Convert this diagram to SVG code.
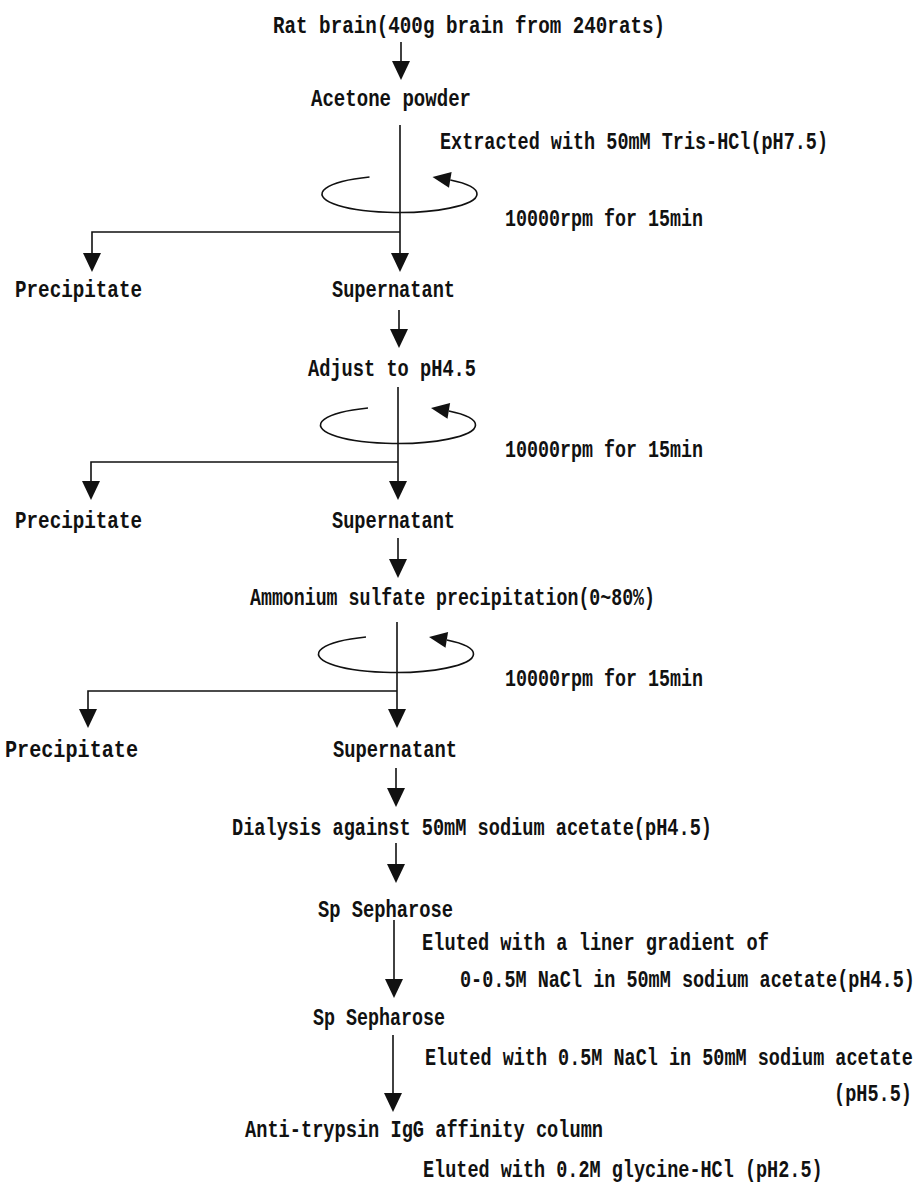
<svg xmlns="http://www.w3.org/2000/svg" xmlns:xlink="http://www.w3.org/1999/xlink" width="919" height="1186" viewBox="0 0 919 1186">
<style>
.t{font-family:"Liberation Mono","Courier New",monospace;font-size:23px;font-weight:bold;fill:#111;}
.ln{stroke:#111;stroke-width:1.6;fill:none;}
.ah{fill:#111;stroke:none;}
</style>
<defs>
<path id="ah" class="ah" d="M-9,-19 L9,-19 L0,0 Z"/>
<g id="rot">
<path class="ln" d="M-30,-17.06 A77.5 18.5 0 1 0 50.8,-13.97"/>
<path class="ah" d="M33,-17 L52.1,-21.9 L49.5,-6.2 Z"/>
</g>
</defs>
<rect width="919" height="1186" fill="#fff"/>

<g id="connectors">
<line class="ln" x1="401" y1="42" x2="401" y2="64"/><use href="#ah" x="401" y="80"/>
<line class="ln" x1="400" y1="125" x2="400" y2="256"/><use href="#ah" x="400" y="272"/>
<use href="#rot" x="399.5" y="194"/>
<polyline class="ln" points="400,232 92,232 92,256"/><use href="#ah" x="92" y="272"/>

<line class="ln" x1="399" y1="310" x2="399" y2="332"/><use href="#ah" x="399" y="348"/>
<line class="ln" x1="398" y1="387" x2="398" y2="484"/><use href="#ah" x="398" y="500"/>
<use href="#rot" x="398" y="425"/>
<polyline class="ln" points="398,462 91,462 91,484"/><use href="#ah" x="91" y="500"/>

<line class="ln" x1="398" y1="538" x2="398" y2="562"/><use href="#ah" x="398" y="578"/>
<line class="ln" x1="397" y1="622" x2="397" y2="712"/><use href="#ah" x="397" y="728"/>
<use href="#rot" x="396" y="654"/>
<polyline class="ln" points="397,691 88,691 88,712"/><use href="#ah" x="88" y="728"/>

<line class="ln" x1="396" y1="768" x2="396" y2="791"/><use href="#ah" x="396" y="807"/>
<line class="ln" x1="396" y1="843" x2="396" y2="867"/><use href="#ah" x="396" y="883"/>
<line class="ln" x1="394" y1="920" x2="394" y2="982"/><use href="#ah" x="394" y="998"/>
<line class="ln" x1="393" y1="1035" x2="393" y2="1096"/><use href="#ah" x="393" y="1112"/>
</g>

<g id="n-ratbrain"><text class="t" x="273" y="33" textLength="392" lengthAdjust="spacingAndGlyphs">Rat brain(400g brain from 240rats)</text></g>
<g id="n-acetone"><text class="t" x="311" y="106" textLength="160" lengthAdjust="spacingAndGlyphs">Acetone powder</text></g>
<g id="l-extract"><text class="t" transform="translate(440,149) scale(0.8033,1)" x="0" y="0">Extracted with 50mM Tris-HCl(pH7.5)</text></g>
<g id="l-rpm1"><text class="t" x="505" y="226" textLength="198" lengthAdjust="spacingAndGlyphs">10000rpm for 15min</text></g>
<g id="n-prec1"><text class="t" x="15" y="297" textLength="127" lengthAdjust="spacingAndGlyphs">Precipitate</text></g>
<g id="n-sup1"><text class="t" x="332" y="297" textLength="123" lengthAdjust="spacingAndGlyphs">Supernatant</text></g>

<g id="n-adjust"><text class="t" x="308" y="376" textLength="168" lengthAdjust="spacingAndGlyphs">Adjust to pH4.5</text></g>
<g id="l-rpm2"><text class="t" x="505" y="457" textLength="198" lengthAdjust="spacingAndGlyphs">10000rpm for 15min</text></g>
<g id="n-prec2"><text class="t" x="15" y="528" textLength="127" lengthAdjust="spacingAndGlyphs">Precipitate</text></g>
<g id="n-sup2"><text class="t" x="332" y="528" textLength="123" lengthAdjust="spacingAndGlyphs">Supernatant</text></g>

<g id="n-ammonium"><text class="t" x="250" y="605" textLength="405" lengthAdjust="spacingAndGlyphs">Ammonium sulfate precipitation(0~80%)</text></g>
<g id="l-rpm3"><text class="t" x="505" y="686" textLength="198" lengthAdjust="spacingAndGlyphs">10000rpm for 15min</text></g>
<g id="n-prec3"><text class="t" x="5" y="757" textLength="133" lengthAdjust="spacingAndGlyphs">Precipitate</text></g>
<g id="n-sup3"><text class="t" x="333" y="757" textLength="124" lengthAdjust="spacingAndGlyphs">Supernatant</text></g>

<g id="n-dialysis"><text class="t" x="232" y="835" textLength="480" lengthAdjust="spacingAndGlyphs">Dialysis against 50mM sodium acetate(pH4.5)</text></g>
<g id="n-sp1"><text class="t" x="318" y="917" textLength="135" lengthAdjust="spacingAndGlyphs">Sp Sepharose</text></g>
<g id="l-elute1">
<text class="t" x="422" y="950" textLength="347" lengthAdjust="spacingAndGlyphs">Eluted with a liner gradient of</text>
<text class="t" transform="translate(460,987) scale(0.8042,1)" x="0" y="0">0-0.5M NaCl in 50mM sodium acetate(pH4.5)</text>
</g>
<g id="n-sp2"><text class="t" x="313" y="1025" textLength="132" lengthAdjust="spacingAndGlyphs">Sp Sepharose</text></g>
<g id="l-elute2">
<text class="t" transform="translate(425,1065) scale(0.8037,1)" x="0" y="0">Eluted with 0.5M NaCl in 50mM sodium acetate</text>
<text class="t" transform="translate(834,1101) scale(0.807,1)" x="0" y="0">(pH5.5)</text>
</g>
<g id="n-anti"><text class="t" x="245" y="1137" textLength="358" lengthAdjust="spacingAndGlyphs">Anti-trypsin IgG affinity column</text></g>
<g id="l-elute3"><text class="t" transform="translate(423,1177) scale(0.805,1)" x="0" y="0">Eluted with 0.2M glycine-HCl (pH2.5)</text></g>
</svg>
